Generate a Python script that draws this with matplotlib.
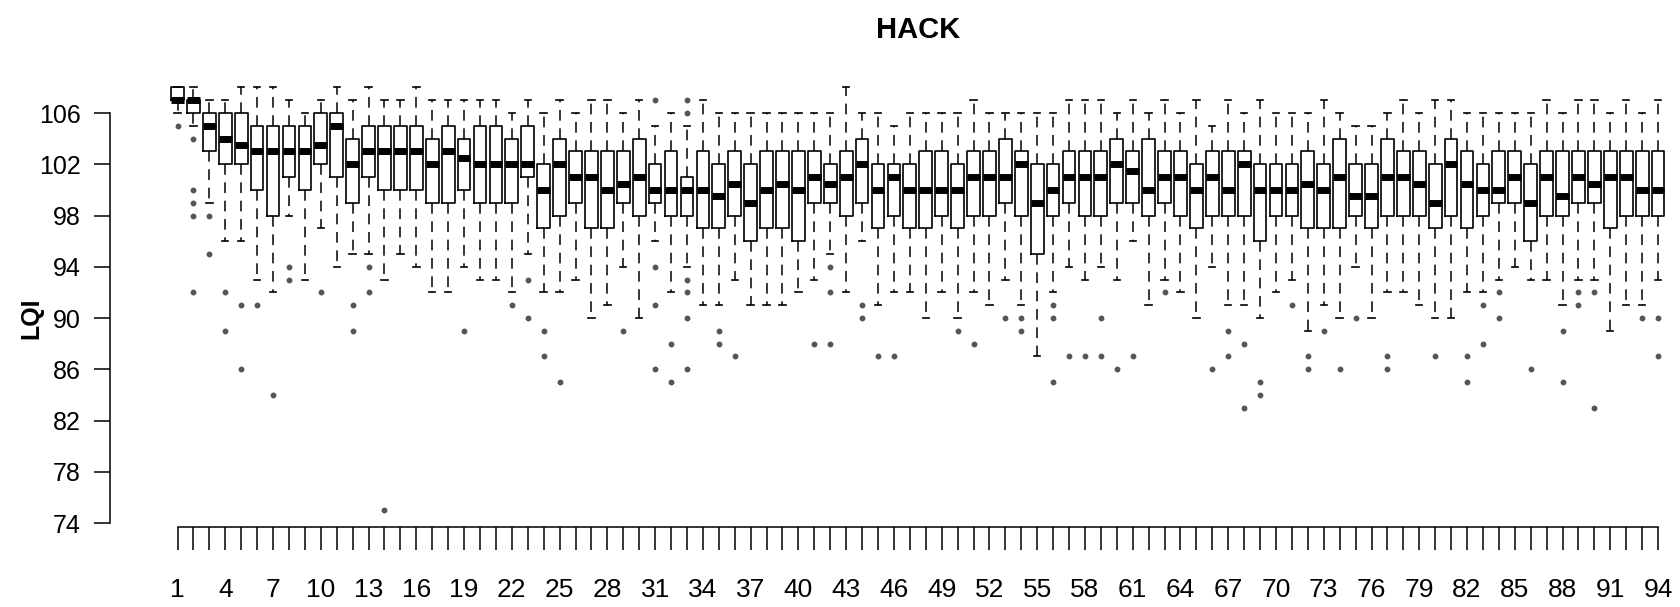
import matplotlib
matplotlib.use("Agg")
import matplotlib.pyplot as plt

# --- données (LQI par position) ---
positions = list(range(1, 95))

whishi = [108, 108, 107, 107, 108, 108, 108, 107, 106, 107,
          108, 107, 108, 107, 107, 108, 107, 107, 107, 107,
          107, 106, 107, 106, 107, 106, 107, 107, 106, 107,
          105, 106, 105, 107, 106, 106, 106, 106, 106, 106,
          106, 106, 108, 106, 106, 105, 106, 106, 106, 106,
          107, 106, 106, 106, 106, 106, 107, 107, 107, 106,
          107, 106, 107, 106, 107, 105, 107, 106, 107, 106,
          106, 106, 107, 106, 105, 105, 106, 107, 106, 107,
          107, 106, 106, 106, 106, 106, 107, 106, 107, 107,
          106, 107, 106, 107]

q3 = [108, 107, 106, 106, 106, 105, 105, 105, 105, 106,
      106, 104, 105, 105, 105, 105, 104, 105, 104, 105,
      105, 104, 105, 102, 104, 103, 103, 103, 103, 104,
      102, 103, 101, 103, 102, 103, 102, 103, 103, 103,
      103, 102, 103, 104, 102, 102, 102, 103, 103, 102,
      103, 103, 104, 103, 102, 102, 103, 103, 103, 104,
      103, 104, 103, 103, 102, 103, 103, 103, 102, 102,
      102, 103, 102, 104, 102, 102, 104, 103, 103, 102,
      104, 103, 102, 103, 103, 102, 103, 103, 103, 103,
      103, 103, 103, 103]

med = [107, 107, 105, 104, 103.5, 103, 103, 103, 103, 103.5,
       105, 102, 103, 103, 103, 103, 102, 103, 102.5, 102,
       102, 102, 102, 100, 102, 101, 101, 100, 100.5, 101,
       100, 100, 100, 100, 99.5, 100.5, 99, 100, 100.5, 100,
       101, 100.5, 101, 102, 100, 101, 100, 100, 100, 100,
       101, 101, 101, 102, 99, 100, 101, 101, 101, 102,
       101.5, 100, 101, 101, 100, 101, 100, 102, 100, 100,
       100, 100.5, 100, 101, 99.5, 99.5, 101, 101, 100.5, 99,
       102, 100.5, 100, 100, 101, 99, 101, 99.5, 101, 100.5,
       101, 101, 100, 100]

q1 = [107, 106, 103, 102, 102, 100, 98, 101, 100, 102,
      101, 99, 101, 100, 100, 100, 99, 99, 100, 99,
      99, 99, 101, 97, 98, 99, 97, 97, 99, 98,
      99, 98, 98, 97, 97, 98, 96, 97, 97, 96,
      99, 99, 98, 99, 97, 98, 97, 97, 98, 97,
      98, 98, 99, 98, 95, 98, 99, 98, 98, 99,
      99, 98, 99, 98, 97, 98, 98, 98, 96, 98,
      98, 97, 97, 97, 98, 97, 98, 98, 98, 97,
      98, 97, 98, 99, 99, 96, 98, 98, 99, 99,
      97, 98, 98, 98]

whislo = [106, 105, 99, 96, 96, 93, 92, 98, 93, 97,
          94, 95, 95, 93, 95, 94, 92, 92, 94, 93,
          93, 92, 95, 92, 92, 93, 90, 91, 94, 90,
          96, 92, 94, 91, 91, 93, 91, 91, 91, 92,
          93, 95, 92, 96, 91, 92, 92, 90, 92, 90,
          92, 91, 93, 91, 87, 92, 94, 93, 94, 93,
          96, 91, 93, 92, 90, 94, 91, 91, 90, 92,
          93, 89, 91, 90, 94, 90, 92, 92, 91, 90,
          90, 92, 92, 93, 94, 93, 93, 91, 93, 93,
          89, 91, 91, 93]

fliers = [[105], [104, 100, 99, 98, 92], [98, 95], [92, 89], [91, 86],
          [91], [84], [94, 93], [], [92],
          [], [91, 89], [94, 92], [75], [],
          [], [], [], [89], [],
          [], [91], [93, 90], [89, 87], [85],
          [], [], [], [89], [],
          [107, 94, 91, 86], [88, 85], [107, 106, 93, 92, 90, 86], [], [89, 88],
          [87], [], [], [], [],
          [88], [94, 92, 88], [], [91, 90], [87],
          [87], [], [], [], [89],
          [88], [], [90], [90, 89], [],
          [91, 90, 85], [87], [87], [90, 87], [86],
          [87], [], [92], [], [],
          [86], [89, 87], [88, 83], [85, 84], [],
          [91], [87, 86], [89], [86], [90],
          [], [87, 86], [], [], [87],
          [], [87, 85], [91, 88], [92, 90], [],
          [86], [], [89, 85], [92, 91], [92, 83],
          [], [], [90], [90, 87]]

plt.rcParams['font.family'] = ['Liberation Sans', 'DejaVu Sans']

stats = []
for i in range(len(positions)):
    stats.append(dict(whislo=whislo[i], q1=q1[i], med=med[i], q3=q3[i],
                      whishi=whishi[i], fliers=fliers[i]))

fig = plt.figure(figsize=(16.81, 6.07), dpi=100)
# axes placé pour reproduire le cadre R (xlim/ylim étendus de 4 %)
ax = fig.add_axes([0.06526, 0.13163, 0.9567, 0.7522])

ax.bxp(stats, positions=positions, widths=0.8, capwidths=0.4, showfliers=True,
       boxprops=dict(color='black', linewidth=1.2),
       medianprops=dict(color='black', linewidth=5.0),
       whiskerprops=dict(color='black', linewidth=1.1, linestyle=(0, (7, 5))),
       capprops=dict(color='black', linewidth=1.2),
       flierprops=dict(marker='o', markersize=3.2, markerfacecolor='#555555',
                       markeredgecolor='#555555', linestyle='none'))

ax.set_xlim(-3.26, 97.76)
ax.set_ylim(73.68, 109.32)

# axes façon R : pas de cadre, axes limités aux graduations
ax.spines['top'].set_visible(False)
ax.spines['right'].set_visible(False)
ax.spines['left'].set_bounds(74, 106)
ax.spines['bottom'].set_bounds(1, 94)
ax.spines['left'].set_linewidth(1.1)
ax.spines['bottom'].set_linewidth(1.1)

ax.set_yticks(range(74, 107, 4))
ax.set_xticks(positions)
ax.set_xticklabels([str(p) if (p - 1) % 3 == 0 else '' for p in positions])
ax.tick_params(axis='y', direction='out', length=11.5, width=1.1, pad=9.5, labelsize=18)
ax.tick_params(axis='x', direction='out', length=16.5, width=1.1, pad=20, labelsize=19)

fig.text(918 / 1681, 1 - 30 / 607, 'HACK', ha='center', va='center',
         fontsize=21, fontweight='bold')
fig.text(31 / 1681, 1 - 318 / 607, 'LQI', rotation=90, ha='center', va='center',
         fontsize=18, fontweight='bold')

fig.savefig('out.png', dpi=100)
